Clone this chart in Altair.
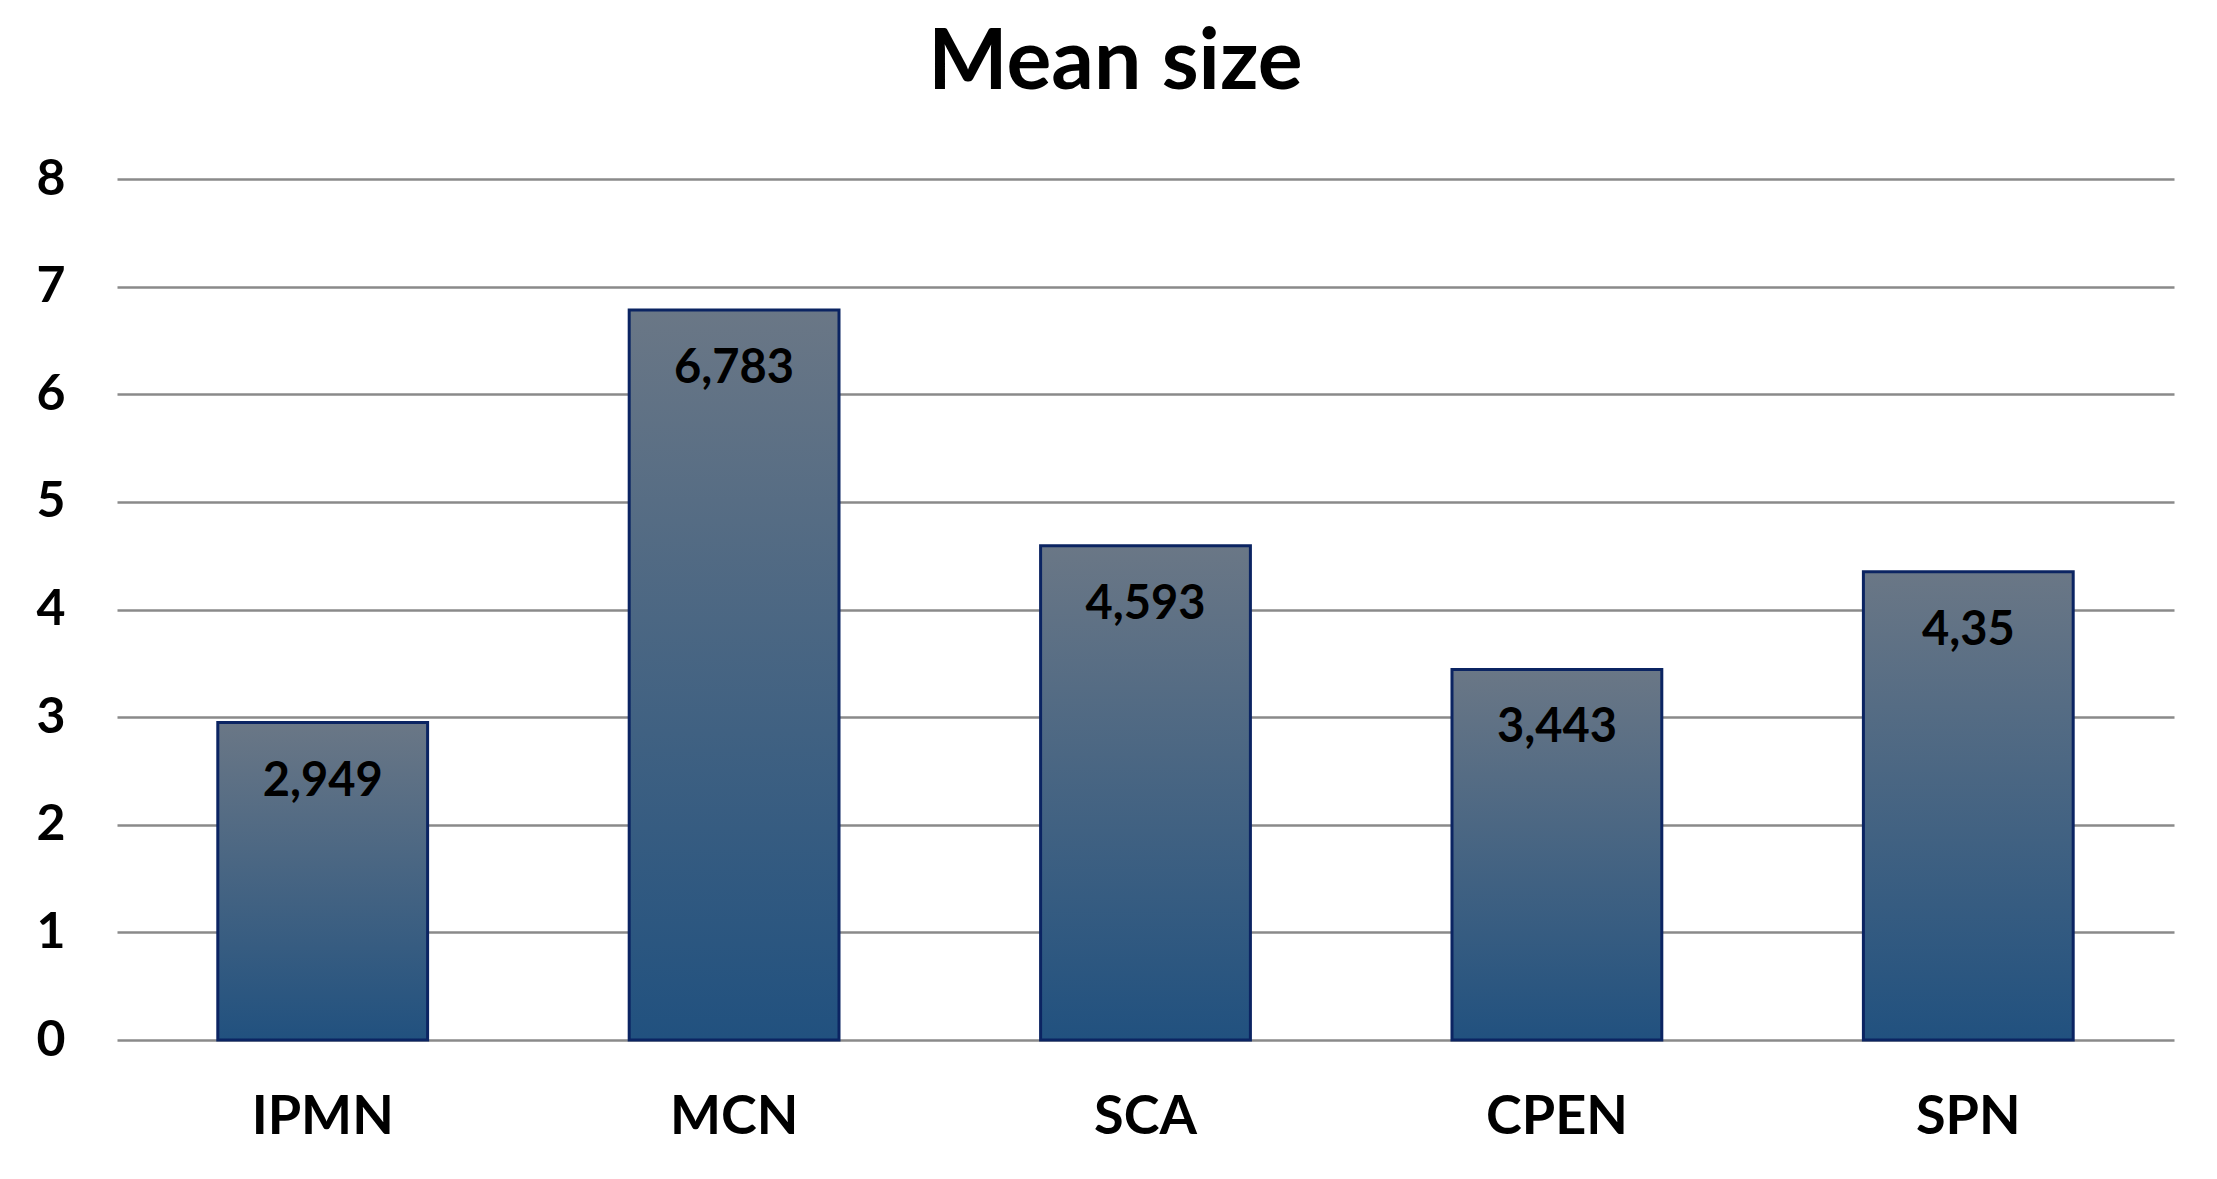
import altair as alt
import pandas as pd

categories = ["IPMN", "MCN", "SCA", "CPEN", "SPN"]
values = [2.949, 6.783, 4.593, 3.443, 4.35]
labels = ["2,949", "6,783", "4,593", "3,443", "4,35"]

df = pd.DataFrame({"cat": categories, "val": values, "lab": labels})

FONT = "Lato"

x = alt.X("cat:N", sort=categories, title=None,
          scale=alt.Scale(paddingInner=0.49, paddingOuter=0.245),
          axis=alt.Axis(labelAngle=0, labelFontSize=54, labelFontWeight="bold",
                        labelFont=FONT, labelColor="black", ticks=False, domain=False,
                        labelPadding=50, grid=False))
y = alt.Y("val:Q", title=None,
          scale=alt.Scale(domain=[0, 8], nice=False),
          axis=alt.Axis(values=[0, 1, 2, 3, 4, 5, 6, 7, 8], format="d", labelFontSize=50,
                        labelFontWeight="bold", labelFont=FONT, labelColor="black",
                        ticks=False, domain=False, labelPadding=52,
                        gridColor="#8a8a8a", gridWidth=2.5, gridOpacity=1))

bars = alt.Chart(df).mark_bar(
    color=alt.Gradient(gradient="linear", x1=0, x2=0, y1=0, y2=1,
                       stops=[alt.GradientStop(offset=0, color="#6a7786"),
                              alt.GradientStop(offset=1, color="#21517f")]),
    stroke="#0b2462", strokeWidth=3,
).encode(x=x, y=y)

text = alt.Chart(df).mark_text(
    baseline="middle", dy=59, fontSize=47, fontWeight="bold", font=FONT, color="black"
).encode(x=alt.X("cat:N", sort=categories), y="val:Q", text="lab:N")

chart = alt.layer(bars, text).properties(
    width=2057, height=861,
    padding={"left": 109, "top": 171, "right": 20, "bottom": 125},
    autosize=alt.AutoSizeParams(type="none"),
    title=alt.TitleParams("Mean size", fontSize=84, font=FONT, fontWeight="bold",
                          color="black", anchor="middle", offset=47, dx=-30),
).configure_view(stroke=None)

chart.save("out.html", embed_options={"renderer": "svg", "actions": False})
